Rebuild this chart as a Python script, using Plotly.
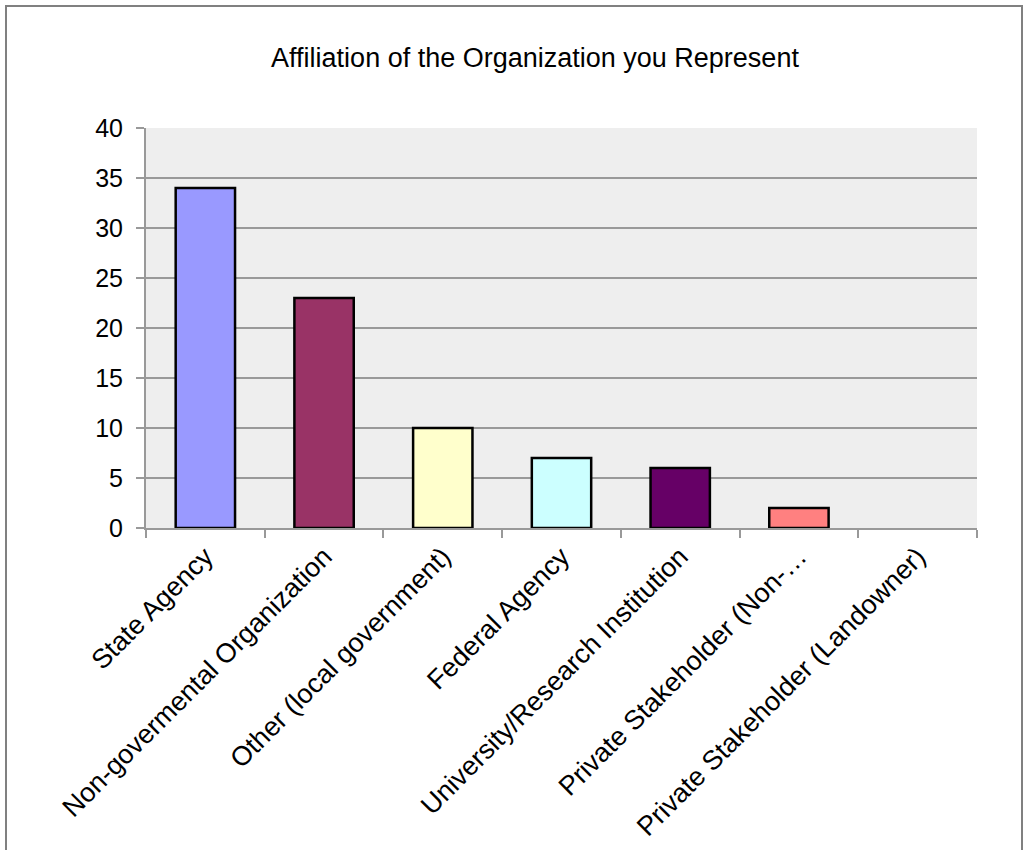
import plotly.graph_objects as go

categories = [
    "State Agency",
    "Non-govermental Organization",
    "Other (local government)",
    "Federal Agency",
    "University/Research Institution",
    "Private Stakeholder (Non-…",
    "Private Stakeholder (Landowner)",
]
values = [34, 23, 10, 7, 6, 2, 0]
colors = ["#9999FF", "#993366", "#FFFFCC", "#CCFFFF", "#660066", "#FF8080", "#CCCCCC"]
outline_widths = [2.5, 2.5, 2.5, 2.5, 2.5, 2.5, 0]

fig = go.Figure(
    go.Bar(
        x=categories,
        y=values,
        marker=dict(color=colors, line=dict(color="#000000", width=outline_widths)),
        width=0.5,
    )
)

L, R, T, B = 146, 52, 128, 322
pw = 1029 - L - R
ph = 850 - T - B

fig.update_layout(
    width=1029,
    height=850,
    margin=dict(l=L, r=R, t=T, b=B, autoexpand=False),
    paper_bgcolor="white",
    plot_bgcolor="#EEEEEE",
    showlegend=False,
    title=dict(
        text="Affiliation of the Organization you Represent",
        x=535 / 1029,
        xanchor="center",
        y=1 - 58 / 850,
        yanchor="middle",
        font=dict(family="Liberation Sans", size=27, color="#000000"),
    ),
    font=dict(family="Liberation Sans", color="#000000"),
    shapes=[
        dict(
            type="rect",
            xref="paper",
            yref="paper",
            x0=(6 - L) / pw,
            x1=(1022 - L) / pw,
            y0=-(B + 20) / ph,
            y1=1 + (T - 6) / ph,
            line=dict(color="#808080", width=2),
            fillcolor="rgba(0,0,0,0)",
            layer="below",
        )
    ],
)

fig.update_yaxes(
    range=[0, 40],
    dtick=5,
    showgrid=True,
    gridcolor="#999999",
    gridwidth=2,
    ticks="outside",
    ticklen=8,
    tickcolor="#999999",
    tickwidth=2,
    showline=True,
    linecolor="#999999",
    linewidth=2,
    tickfont=dict(size=25, family="Liberation Sans"),
    ticklabelstandoff=8,
    zeroline=False,
    automargin=False,
)
fig.update_xaxes(
    tickangle=-45,
    tickson="boundaries",
    ticks="outside",
    ticklen=8,
    tickcolor="#999999",
    tickwidth=2,
    showline=True,
    linecolor="#999999",
    linewidth=2,
    showgrid=False,
    tickfont=dict(size=27, family="Liberation Sans"),
    automargin=False,
)

fig.write_html(
    "out.html",
    config={"displayModeBar": False},
    post_script="document.body.style.margin='0px';",
)
